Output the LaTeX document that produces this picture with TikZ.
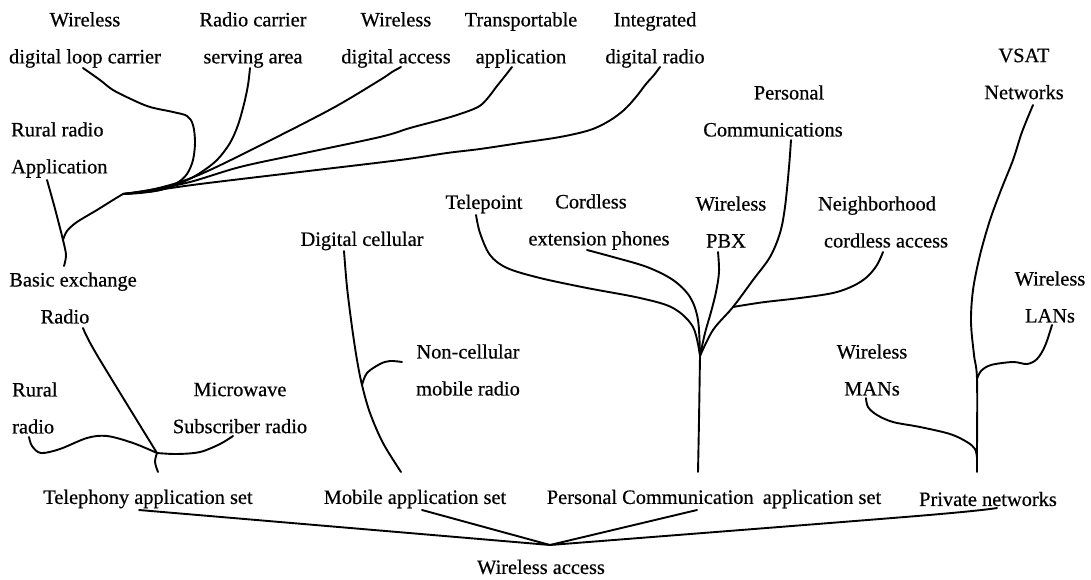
\documentclass[tikz,border=0pt]{standalone}
\usepackage{fontspec}
\setmainfont{Liberation Serif}
\newfontfamily\lblfont{Liberation Serif}[FakeBold=0.5]
\begin{document}
\begin{tikzpicture}[x=1pt,y=-1pt,
  lbl/.style={inner sep=1pt,align=center,font=\lblfont\fontsize{20.4}{37}\selectfont},
  lbll/.style={lbl,align=left,anchor=west},
  br/.style={line width=1.9pt,line cap=round,line join=round},
  sm/.style={br,smooth,tension=0.55}]
\useasboundingbox (0,0) rectangle (1091,580);
% ---- labels ----
\node[lbl] (n1) at (85,40) {Wireless\\digital loop carrier};
\node[lbl] (n2) at (253,40) {Radio carrier\\serving area};
\node[lbl] (n3) at (396,40) {Wireless\\digital access};
\node[lbl] (n4) at (521,40) {Transportable\\application};
\node[lbl] (n5) at (655,40) {Integrated\\digital radio};
\node[lbll] (rra) at (10,150) {Rural radio\\Application};
\node[lbl] (ber) at (73,298) {Basic exchange\\Radio\hspace*{16pt}};
\node[lbll] (rr) at (11,408) {Rural\\radio};
\node[lbl] (msr) at (240,408) {Microwave\\Subscriber radio};
\node[lbl] (dc) at (362,241) {Digital cellular};
\node[lbl] (ncm) at (468,370) {Non-cellular\\mobile radio};
\node[lbl] (tp) at (484,204) {Telepoint};
\node[lbl] (cep) at (599,222) {Cordless\hspace*{16pt}\\extension phones};
\node[lbl] (pbx) at (731,222) {Wireless\\PBX\hspace*{10pt}};
\node[lbl] (pc) at (773,111) {\hspace*{32pt}Personal\\Communications};
\node[lbl] (nca) at (886,222) {Neighborhood\hspace*{18pt}\\cordless access};
\node[lbl] (vsat) at (1024,74) {VSAT\\Networks};
\node[lbl] (lan) at (1050,297) {Wireless\\LANs};
\node[lbl] (man) at (872,370) {Wireless\\MANs};
\node[lbl] (tas) at (148,499) {Telephony application set};
\node[lbl] (mas) at (415,499) {Mobile application set};
\node[lbl] (pcas) at (714,499) {Personal Communication\hspace{0.45em}application set};
\node[lbl] (pn) at (988,499) {Private networks};
\node[lbl] (wa) at (541,567) {Wireless access};
% ---- junctions and free ends ----
\coordinate (J0) at (550,545);
\coordinate (Jt) at (157,453);
\coordinate (Jm) at (362,385);
\coordinate (Jp) at (700,356);
\coordinate (Jn) at (733,307);
\coordinate (Jq) at (977,379);
\coordinate (Jr) at (977,452);
\coordinate (Jf) at (123,194);
\coordinate (Jb) at (63,240);
\coordinate (eTas) at (139,510);
\coordinate (eMas) at (422,510);
\coordinate (ePcas) at (697,510);
\coordinate (ePn) at (997,508);
\coordinate (eTs) at (158,472);
\coordinate (eMs) at (401,472);
\coordinate (ePs) at (698,472);
\coordinate (eNs) at (977,472);
\coordinate (eRadio) at (83,328);
\coordinate (eRural) at (29,437);
\coordinate (eSubs) at (233,436);
\coordinate (eDc) at (344,251);
\coordinate (eNc) at (402,362);
\coordinate (eTp) at (476,215);
\coordinate (eCep) at (587,250);
\coordinate (ePbx) at (718,252);
\coordinate (ePc) at (791,140);
\coordinate (eNca) at (883,252);
\coordinate (eVsat) at (1033,105);
\coordinate (eLan) at (1052,325);
\coordinate (eMan) at (866,398);
\coordinate (eBer) at (64,266);
\coordinate (eApp) at (47,180);
\coordinate (e1) at (83,68);
\coordinate (e2) at (250,68);
\coordinate (e3) at (401,67);
\coordinate (e4) at (512,67);
\coordinate (e5) at (660,67);
% ---- wireless access ----
\draw[br] (eTas) -- (J0);
\draw[br] (eMas) -- (J0);
\draw[br] (ePcas) -- (J0);
\draw[sm] plot coordinates {(ePn) (917,516) (J0)};
% ---- telephony ----
\draw[sm] plot coordinates {(eTs) (155,462) (Jt)};
\draw[sm] plot coordinates {(eRadio) (97,355) (Jt)};
\draw[sm] plot coordinates {(eRural) (32,446) (41,453) (60,449) (87,438) (107,436) (133,443) (Jt)};
\draw[sm] plot coordinates {(Jt) (177,454) (200,452) (220,444) (eSubs)};
% ---- mobile ----
\draw[sm] plot coordinates {(eDc) (347,287) (352,327) (357,360) (Jm) (370,413) (383,443) (eMs)};
\draw[sm] plot coordinates {(Jm) (367,373) (380,364) (390,361) (eNc)};
% ---- personal ----
\draw[sm] plot coordinates {(ePs) (699,420) (Jp)};
\draw[sm] plot coordinates {(eTp) (480,233) (490,255) (507,268) (540,278) (587,288) (640,298) (673,308) (693,327) (Jp)};
\draw[sm] plot coordinates {(eCep) (613,257) (647,267) (673,280) (690,297) (698,320) (Jp)};
\draw[sm] plot coordinates {(ePbx) (719,272) (716,292) (711,312) (705,333) (Jp)};
\draw[sm] plot coordinates {(ePc) (789,167) (785,207) (780,233) (770,257) (753,280) (Jn) (713,330) (Jp)};
\draw[sm] plot coordinates {(eNca) (877,265) (867,277) (853,286) (833,293) (800,298) (765,302) (745,305) (Jn)};
% ---- private ----
\draw[sm] plot coordinates {(eNs) (Jr) (Jq) (974,355) (971,322) (973,290) (980,255) (990,220) (1001,190) (1013,160) (1022,132) (eVsat)};
\draw[sm] plot coordinates {(Jq) (981,371) (991,365) (1013,362) (1027,364) (1037,359) (1045,346) (eLan)};
\draw[sm] plot coordinates {(eMan) (868,407) (877,415) (893,422) (920,427) (950,434) (967,442) (975,449) (977,458)};
% ---- rural radio application ----
\draw[sm] plot coordinates {(eApp) (54,205) (60,228) (Jb) (66,255) (eBer)};
\draw[sm] plot coordinates {(Jb) (67,231) (77,222) (97,210) (113,200) (Jf)};
\draw[sm] plot coordinates {(e1) (100,80) (113,90) (133,100) (150,107) (173,112) (187,116) (193,125) (195,142) (193,160) (187,174) (177,183) (160,190) (140,193) (Jf)};
\draw[sm] plot coordinates {(e2) (248,85) (244,104) (238,125) (230,143) (217,160) (200,173) (183,182) (160,190) (135,193) (Jf)};
\draw[sm] plot coordinates {(e3) (392,72) (380,80) (333,108) (267,142) (210,170) (180,182) (150,190) (Jf)};
\draw[sm] plot coordinates {(e4) (505,76) (497,86) (487,99) (478,107) (460,114) (440,120) (410,128) (380,137) (300,154) (240,167) (190,182) (150,190) (Jf)};
\draw[sm] plot coordinates {(e5) (654,75) (646,84) (636,97) (624,110) (609,121) (590,130) (560,137) (520,143) (480,149) (447,153) (400,160) (300,172) (200,184) (150,191) (Jf)};
\end{tikzpicture}
\end{document}
